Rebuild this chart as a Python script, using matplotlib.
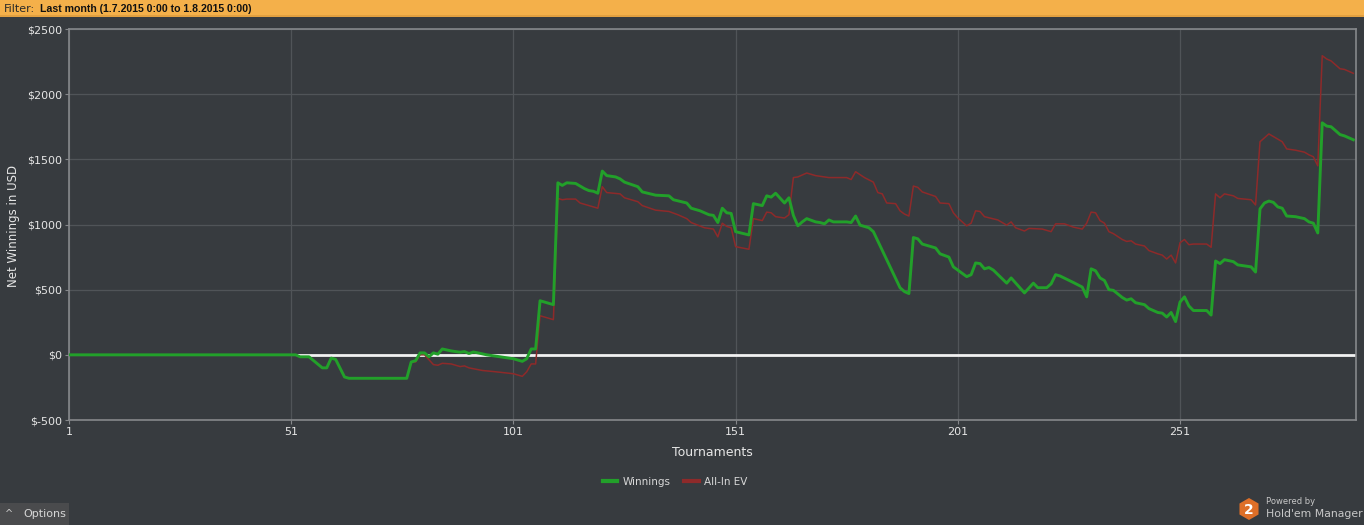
import matplotlib
matplotlib.use('Agg')
import matplotlib.pyplot as plt
from matplotlib.patches import Rectangle, RegularPolygon

# tournament number / net winnings (vertices)
win_t = [1, 52, 53, 55, 58, 59, 60, 61, 63, 64, 77, 78, 79, 80, 81, 82, 83, 84, 85, 87,
         89, 90, 91, 92, 93, 95, 101, 103, 104, 105, 106, 107, 110, 111, 112, 113, 115, 117, 118, 119,
         120, 121, 122, 124, 125, 126, 129, 130, 133, 136, 137, 140, 141, 143, 145, 146, 147, 148, 149, 150,
         151, 154, 155, 157, 158, 159, 160, 162, 163, 164, 165, 166, 167, 169, 170, 171, 172, 173, 176, 177,
         178, 179, 181, 182, 188, 189, 190, 191, 192, 193, 196, 197, 199, 200, 203, 204, 205, 206, 207, 208,
         209, 212, 213, 216, 218, 219, 221, 222, 223, 224, 227, 229, 230, 231, 232, 233, 234, 235, 236, 238,
         239, 240, 241, 243, 244, 246, 247, 248, 249, 250, 251, 252, 253, 254, 257, 258, 259, 260, 261, 263,
         264, 267, 268, 269, 270, 271, 272, 273, 274, 275, 277, 279, 280, 281, 282, 283, 284, 285, 287, 288,
         290]
win_v = [0, 0, -15, -15, -100, -100, -25, -35, -170, -180, -180, -55, -45, 15, 15, -15, 15, 5, 45, 30,
         20, 25, 10, 22, 15, 0, -30, -50, -30, 45, 45, 415, 385, 1320, 1300, 1320, 1315, 1275, 1260, 1255,
         1240, 1410, 1375, 1365, 1350, 1325, 1290, 1250, 1225, 1220, 1190, 1165, 1125, 1105, 1075, 1070, 1015, 1125, 1090, 1085,
         945, 920, 1160, 1145, 1220, 1210, 1240, 1165, 1205, 1070, 990, 1020, 1045, 1020, 1015, 1005, 1035, 1020, 1020, 1015,
         1065, 995, 975, 945, 515, 485, 470, 900, 890, 850, 820, 775, 750, 675, 600, 615, 705, 700, 660, 670,
         650, 550, 590, 475, 550, 515, 515, 545, 615, 605, 555, 520, 445, 660, 645, 590, 570, 500, 495, 440,
         420, 430, 400, 385, 355, 325, 320, 290, 325, 255, 405, 445, 375, 340, 340, 305, 720, 700, 730, 715,
         690, 675, 635, 1120, 1165, 1180, 1170, 1135, 1125, 1065, 1060, 1045, 1020, 1010, 935, 1780, 1755, 1750, 1690, 1680,
         1650]

ev_t = [1, 52, 53, 55, 58, 59, 60, 61, 63, 64, 77, 78, 79, 80, 81, 83, 84, 85, 87, 89,
        90, 91, 94, 97, 101, 103, 104, 105, 106, 107, 110, 111, 112, 113, 115, 116, 118, 120, 121, 122,
        125, 126, 129, 130, 133, 136, 138, 140, 141, 144, 146, 147, 148, 149, 150, 151, 154, 155, 157, 158,
        159, 160, 162, 163, 164, 165, 167, 168, 169, 170, 172, 176, 177, 178, 180, 182, 183, 184, 185, 187,
        188, 189, 190, 191, 192, 193, 196, 197, 199, 200, 201, 203, 204, 205, 206, 207, 210, 212, 213, 214,
        216, 217, 220, 222, 223, 225, 227, 229, 230, 231, 232, 233, 234, 235, 236, 238, 239, 240, 241, 243,
        244, 246, 247, 248, 249, 250, 251, 252, 253, 254, 257, 258, 259, 260, 261, 263, 264, 267, 268, 269,
        270, 271, 272, 274, 275, 277, 279, 280, 281, 282, 283, 284, 285, 287, 288, 290]
ev_v = [0, 0, -15, -15, -100, -100, -25, -35, -170, -180, -180, -55, -55, 0, 0, -75, -80, -65, -70, -90,
        -85, -100, -120, -130, -145, -165, -130, -70, -70, 300, 270, 1200, 1190, 1195, 1195, 1165, 1145, 1125, 1290, 1245,
        1235, 1205, 1175, 1145, 1110, 1100, 1075, 1045, 1015, 975, 965, 905, 1010, 985, 975, 830, 810, 1045, 1030, 1095,
        1090, 1060, 1050, 1075, 1360, 1365, 1395, 1385, 1375, 1370, 1360, 1360, 1345, 1405, 1360, 1325, 1245, 1235, 1165, 1160,
        1105, 1080, 1065, 1295, 1285, 1250, 1215, 1165, 1160, 1090, 1050, 990, 1010, 1105, 1100, 1060, 1035, 995, 1020, 975,
        950, 970, 965, 945, 1005, 1005, 980, 965, 1010, 1095, 1090, 1030, 1010, 945, 930, 885, 870, 875, 850, 835,
        800, 775, 765, 735, 765, 705, 860, 885, 845, 850, 850, 825, 1235, 1205, 1235, 1220, 1200, 1190, 1150, 1635,
        1665, 1695, 1675, 1635, 1580, 1570, 1555, 1535, 1520, 1450, 2295, 2270, 2255, 2195, 2190, 2160]

x_ticks = [1, 51, 101, 151, 201, 251]
y_ticks = [-500, 0, 500, 1000, 1500, 2000, 2500]
y_labels = ['$' + str(v) for v in y_ticks]

BG = '#373b3f'
W, H = 1364, 525

fig = plt.figure(figsize=(W / 100, H / 100), dpi=100)
fig.patch.set_facecolor(BG)

# overlay in pixel coordinates for the window decorations
deco = fig.add_axes([0, 0, 1, 1])
deco.set_xlim(0, W)
deco.set_ylim(H, 0)
deco.axis('off')
deco.add_patch(Rectangle((0, 0), W, 17, color='#f4b04a', lw=0))
deco.add_patch(Rectangle((0, 15), W, 2, color='#e2a040', lw=0))
deco.text(4, 8.5, 'Filter:', fontsize=8, color='#2a2a2a', va='center', ha='left')
deco.text(40, 8.5, 'Last month (1.7.2015 0:00 to 1.8.2015 0:00)', fontsize=7.6,
          family='Liberation Sans', color='#111111', va='center', ha='left', fontweight='bold')
deco.add_patch(Rectangle((0, 503), 69, 22, color='#4a4b4d', lw=0))
deco.text(9, 514, '^', fontsize=7, color='#cccccc', va='center', ha='center')
deco.text(23, 514, 'Options', fontsize=8, color='#d6d6d6', va='center', ha='left')
deco.add_patch(RegularPolygon((1249, 509), 6, radius=11, color='#de6f28', lw=0))
deco.text(1249, 509.5, '2', fontsize=10, color='white', fontweight='bold', va='center', ha='center')
deco.text(1266, 502, 'Powered by', fontsize=6, color='#c8c8c8', va='center', ha='left')
deco.text(1266, 514, "Hold'em Manager", fontsize=7.8, color='#c8c8c8', va='center', ha='left')

ax = fig.add_axes([69 / W, 1 - 420 / H, (1356 - 69) / W, (420 - 29) / H])
ax.set_facecolor(BG)
ax.plot([52.5, 290.6], [0, 0], color='#f2f2f2', lw=2, zorder=2)
ax.plot(ev_t, ev_v, color='#8e2a2a', lw=1.1, zorder=3, label='All-In EV')
ax.plot(win_t, win_v, color='#22a02a', lw=2.1, zorder=4, label='Winnings')

ax.set_xlim(1, 290.6)
ax.set_ylim(-500, 2500)
ax.set_xticks(x_ticks)
ax.set_yticks(y_ticks)
ax.set_yticklabels(y_labels)
ax.grid(True, color='#505458', lw=0.9)
ax.set_axisbelow(True)
for s in ax.spines.values():
    s.set_color('#86888b')
    s.set_linewidth(1.2)
ax.tick_params(colors='#86888b', labelcolor='#e6e6e6', labelsize=8, length=3, pad=2)

fig.text(14 / W, 1 - 226 / H, 'Net Winnings in USD', rotation=90, color='#e6e6e6',
         fontsize=8.5, ha='center', va='center')
fig.text(712 / W, 1 - 452 / H, 'Tournaments', color='#e6e6e6', fontsize=9,
         ha='center', va='center')

h, l = ax.get_legend_handles_labels()
leg = fig.legend(h[::-1], l[::-1], loc='center', bbox_to_anchor=(675 / W, 1 - 482 / H), ncol=2,
                 frameon=False, fontsize=7.5, handlelength=1.4, columnspacing=1.3,
                 handletextpad=0.5, labelcolor='#d8d8d8')
for line in leg.get_lines():
    line.set_linewidth(3)

fig.savefig('out.png', dpi=100, facecolor=BG)
